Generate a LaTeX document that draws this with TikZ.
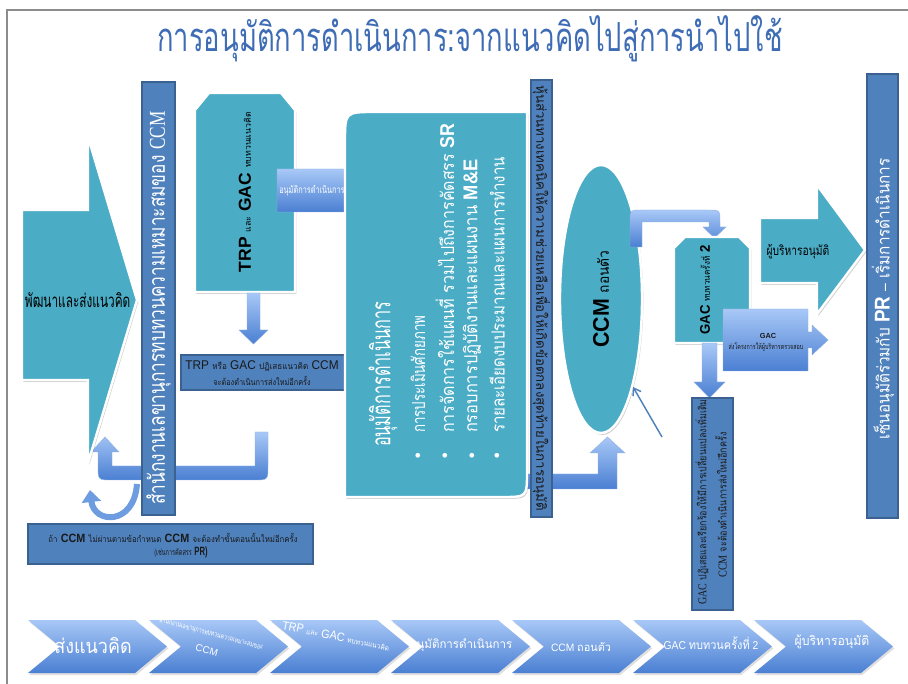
\documentclass[tikz,border=0pt]{standalone}
\usepackage{fontspec}
\usepackage{graphicx}
\setmainfont{Liberation Sans}
\newfontfamily\thaifont[Script=Thai]{Loma}
\newfontfamily\serifl{Liberation Serif}
\usetikzlibrary{shadows,arrows.meta,shapes.geometric}
\definecolor{tealf}{HTML}{4BACC6}
\definecolor{barf}{HTML}{4F81BD}
\definecolor{barb}{HTML}{3B6190}
\definecolor{gtop}{HTML}{A8C8F7}
\definecolor{gbot}{HTML}{4A7FD2}
\definecolor{curvc}{HTML}{6E9CE0}
\definecolor{titlec}{HTML}{3E6DB5}
\definecolor{framec}{HTML}{8C8C8C}
\definecolor{darktext}{HTML}{1A1A1A}
\newcommand\fw[2]{\resizebox{#1pt}{\height}{#2}}
\newcommand\tsz[1]{\thaifont\mdseries\fontsize{#1}{#1}\selectfont}
\newcommand\bsz[1]{\rmfamily\bfseries\fontsize{#1}{#1}\selectfont}
\newcommand\lsz[1]{\rmfamily\mdseries\fontsize{#1}{#1}\selectfont}
\begin{document}
\begin{tikzpicture}[x=0.75pt,y=-0.75pt,
 tealshape/.style={fill=tealf, draw=white, line width=1.8pt, drop shadow={opacity=0.35,shadow xshift=1pt,shadow yshift=-1.5pt}},
 barshape/.style={fill=barf, draw=barb, line width=1.1pt},
 gradshape/.style={top color=gtop, bottom color=gbot, draw=gbot!60!white, line width=0.3pt},
 chev/.style={top color=gtop, bottom color=gbot, drop shadow={opacity=0.25,shadow xshift=1pt,shadow yshift=-1.5pt}},
 lbl/.style={inner sep=0pt, outer sep=0pt}]
\useasboundingbox (0,0) rectangle (908,684);
\fill[white] (0,0) rectangle (908,684);
\draw[framec, line width=1.1pt] (7,684) -- (7,10) -- (908,10);
\node[lbl, text=titlec] (title) at (470,39) {\tsz{30}\fw{469}{การอนุมัติการดำเนินการ:จากแนวคิดไปสู่การนำไปใช้}};

% U-turn arrow and curved arrow (behind left bar)
\path[gradshape] (255,432) -- (268,432) -- (268,466) .. controls (268,480) .. (254,480) -- (112,480) .. controls (98,480) .. (98,466) -- (98,452) -- (91,452) -- (105,437) -- (119,452) -- (112,452) -- (112,466) -- (255,466) -- cycle;
\draw[line width=4.5pt, color=curvc, -{Triangle[length=9pt,width=14pt]}] (137,484) .. controls (134,526) and (94,524) .. (90,490);

% left big arrow
\path[tealshape] (22,210) -- (88,210) -- (88,137) -- (137,300) -- (88,463) -- (88,380) -- (22,380) -- cycle;
\node[lbl, anchor=west] (devtext) at (25,300) {\tsz{14}\fw{79}{พัฒนาและส่งแนวคิด}};

% left bar
\path[barshape] (142,82) rectangle (175,515);
\node[lbl, rotate=90, text=white] (bartext1) at (158.5,308) {\tsz{17}\fw{295}{สำนักงานเลขานุการทบทวนความเหมาะสมของ {\serifl CCM}}};

% TRP box
\path[tealshape] (195,110) -- (209,93) -- (281,93) -- (295,110) -- (295,292) -- (195,292) -- cycle;
\node[lbl, rotate=90] (trptext) at (245,192) {\fw{120}{\bsz{13}TRP {\tsz{6.5}และ} GAC {\tsz{6.5}ทบทวนแนวคิด}}};

\path[gradshape] (277,169) -- (348,169) -- (348,184) -- (352,184) -- (352,177) -- (365,193) -- (352,209) -- (352,201) -- (348,201) -- (348,212) -- (277,212) -- cycle;
\node[lbl, text=white] (approvetxt) at (312,191) {\tsz{7.5}\fw{49}{อนุมัติการดำเนินการ}};

\path[gradshape] (247,293) -- (260,293) -- (260,330) -- (268,330) -- (253.5,344) -- (239,330) -- (247,330) -- cycle;

\path[barshape] (181,355) rectangle (346,390);
\node[lbl, text=darktext] (rej1) at (262,366) {\fw{115}{\lsz{9.5}TRP {\tsz{6.5}หรือ} GAC {\tsz{6.5}ปฏิเสธแนวคิด} CCM}};
\node[lbl, text=darktext] (rej2) at (262,381) {\tsz{6.5}\fw{73}{จะต้องดำเนินการส่งใหม่อีกครั้ง}};

\path[barshape] (28,524) rectangle (313,564);
\node[lbl, text=darktext] (note1) at (173,538) {\fw{187}{{\tsz{6.5}ถ้า} {\bsz{9}CCM} {\tsz{6.5}ไม่ผ่านตามข้อกำหนด} {\bsz{9}CCM} {\tsz{6.5}จะต้องทำขั้นตอนนั้นใหม่อีกครั้ง}}};
\node[lbl, text=darktext] (note2) at (181,552) {\fw{40}{{\tsz{6.5}(เช่นการคัดสรร} {\bsz{9}PR)}}};

% bent up arrow into CCM
\path[gradshape] (520,474) -- (598,474) -- (598,453) -- (590,453) -- (607.5,437) -- (625,453) -- (617,453) -- (617,489) -- (520,489) -- cycle;

% big approval box
\path[tealshape] (345,142) .. controls (345,112) .. (375,112) -- (527,112) -- (527,472) .. controls (527,497) .. (502,497) -- (345,497) -- cycle;
\node[lbl, rotate=90, anchor=west, text=white] (bigtitle) at (383,447) {\tsz{20}\fw{109}{อนุมัติการดำเนินการ}};
\node[lbl, rotate=90, anchor=west, text=white] (b1) at (418,433) {\tsz{13.5}\fw{88}{การประเมินศักยภาพ}};
\node[lbl, rotate=90, anchor=west, text=white] (b2) at (445,433) {\fw{232}{\tsz{13.5}การจัดการใช้แผนที่ รวมไปถึงการคัดสรร {\bsz{15}SR}}};
\node[lbl, rotate=90, anchor=west, text=white] (b3) at (472,433) {\fw{205}{\tsz{13.5}กรอบการปฏิบัติงานและแผนงาน {\bsz{15}M\&E}}};
\node[lbl, rotate=90, anchor=west, text=white] (b4) at (497,433) {\tsz{13.5}\fw{207}{รายละเอียดงบประมาณและแผนการทำงาน}};
\foreach \bx/\bn in {418/d1,445/d2,472/d3,497/d4}
  \node[lbl, text=white] (\bn) at (\bx,457) {\lsz{13}\textbullet};

% middle bar
\path[barshape] (531,80) rectangle (552,517);
\node[lbl, rotate=-90, text=darktext] (midtext) at (541.5,298) {\tsz{10}\fw{319}{หุ้นส่วนทางเทคนิคให้ความช่วยเหลือเพื่อให้เกิดข้อตกลงสุดท้ายในการอนุมัติ}};

% CCM ellipse (rotated, text inside)
\node[ellipse, tealshape, rotate=90, minimum width=201pt, minimum height=61.5pt, inner sep=0pt] (ccm) at (601,299) {\fw{73}{\bsz{17}CCM {\tsz{11}ถอนตัว}}};

% bent arrow to GAC
\path[gradshape] (630,247) -- (630,222) .. controls (630,210) .. (642,210) -- (708,210) .. controls (720,210) .. (720,222) -- (720,227) -- (726,227) -- (714.5,238) -- (703,227) -- (709,227) -- (709,222) -- (642,222) -- (642,247) -- cycle;

% GAC box
\path[tealshape] (674,248) -- (685,237) -- (739,237) -- (750,248) -- (750,343) -- (674,343) -- cycle;
\node[lbl, rotate=90] (gactext) at (705,290) {\fw{67}{\bsz{10.5}GAC {\tsz{6.5}ทบทวนครั้งที่} 2}};

\path[gradshape] (723,309) -- (808,309) -- (808,332) -- (812,332) -- (812,325) -- (828,340) -- (812,355) -- (812,348) -- (808,348) -- (808,371) -- (723,371) -- cycle;
\node[lbl, text=darktext] (gacsend1) at (768,336) {\bsz{5.5}GAC};
\node[lbl, text=darktext] (gacsend2) at (766,347) {\tsz{5.5}\fw{56}{ส่งโครงการให้ผู้บริหารตรวจสอบ}};

\path[gradshape] (702,343) -- (717,343) -- (717,382) -- (725,382) -- (709.5,398) -- (694,382) -- (702,382) -- cycle;

\path[barshape] (692,398) rectangle (733,610);
\node[lbl, rotate=90, text=darktext] (gacrej1) at (702,502) {\fw{154}{{\serifl\fontsize{9}{9}\selectfont GAC} \tsz{8}ปฏิเสธและเรียกร้องให้มีการเปลี่ยนแปลงเพิ่มเติม}};
\node[lbl, rotate=90, text=darktext] (gacrej2) at (721,505) {\fw{109}{{\serifl\fontsize{9}{9}\selectfont CCM} \tsz{8}จะต้องดำเนินการส่งใหม่อีกครั้ง}};

\coordinate (thinstart) at (662,437);
\draw[barf, line width=1.1pt, -{Straight Barb[length=5pt,width=7pt]}] (thinstart) -- (ccm.-160);

% right arrow
\path[tealshape] (760,218) -- (817,218) -- (817,185) -- (865,250) -- (817,314) -- (817,283) -- (760,283) -- cycle;
\node[lbl] (exectext) at (798,252) {\tsz{10}\fw{47}{ผู้บริหารอนุมัติ}};

% right bar
\path[barshape] (867,74) rectangle (898,518);
\node[lbl, rotate=90, text=white] (rbtext) at (883,299) {\fw{211}{\tsz{13}เซ็นอนุมัติร่วมกับ {\bsz{16}PR} {\lsz{12}–} เริ่มการดำเนินการ}};

% chevrons
\foreach \i in {0,...,6}{
  \pgfmathsetmacro\L{28+121*\i}
  \path[chev] (\L,620) -- ({\L+107},620) -- ({\L+139},646.5) -- ({\L+107},673) -- (\L,673) -- ({\L+32},646.5) -- cycle;
}
\node[lbl, text=white] (ch1) at (93,646) {\tsz{15}\fw{58}{ส่งแนวคิด}};
\node[lbl, text=white, rotate=-15, align=center] (ch2) at (209,642) {\tsz{5.5}\fw{80}{สำนักงานเลขานุการทบทวนความเหมาะสมของ}\\[2pt]\lsz{7.5}CCM};
\node[lbl, text=white, rotate=-11.6] (ch3) at (336,636) {\fw{82}{\lsz{9}TRP {\tsz{5.5}และ} GAC {\tsz{5.5}ทบทวนแนวคิด}}};
\node[lbl, text=white] (ch4) at (461,645) {\tsz{9}\fw{77}{อนุมัติการดำเนินการ}};
\node[lbl, text=white] (ch5) at (581,647) {\fw{45}{\lsz{8}CCM {\tsz{8.5}ถอนตัว}}};
\node[lbl, text=white] (ch6) at (711,643) {\fw{71}{\lsz{8.5}GAC {\tsz{9}ทบทวนครั้งที่} 2}};
\node[lbl, text=white] (ch7) at (832,642) {\tsz{9.5}\fw{56}{ผู้บริหารอนุมัติ}};
\end{tikzpicture}
\end{document}
